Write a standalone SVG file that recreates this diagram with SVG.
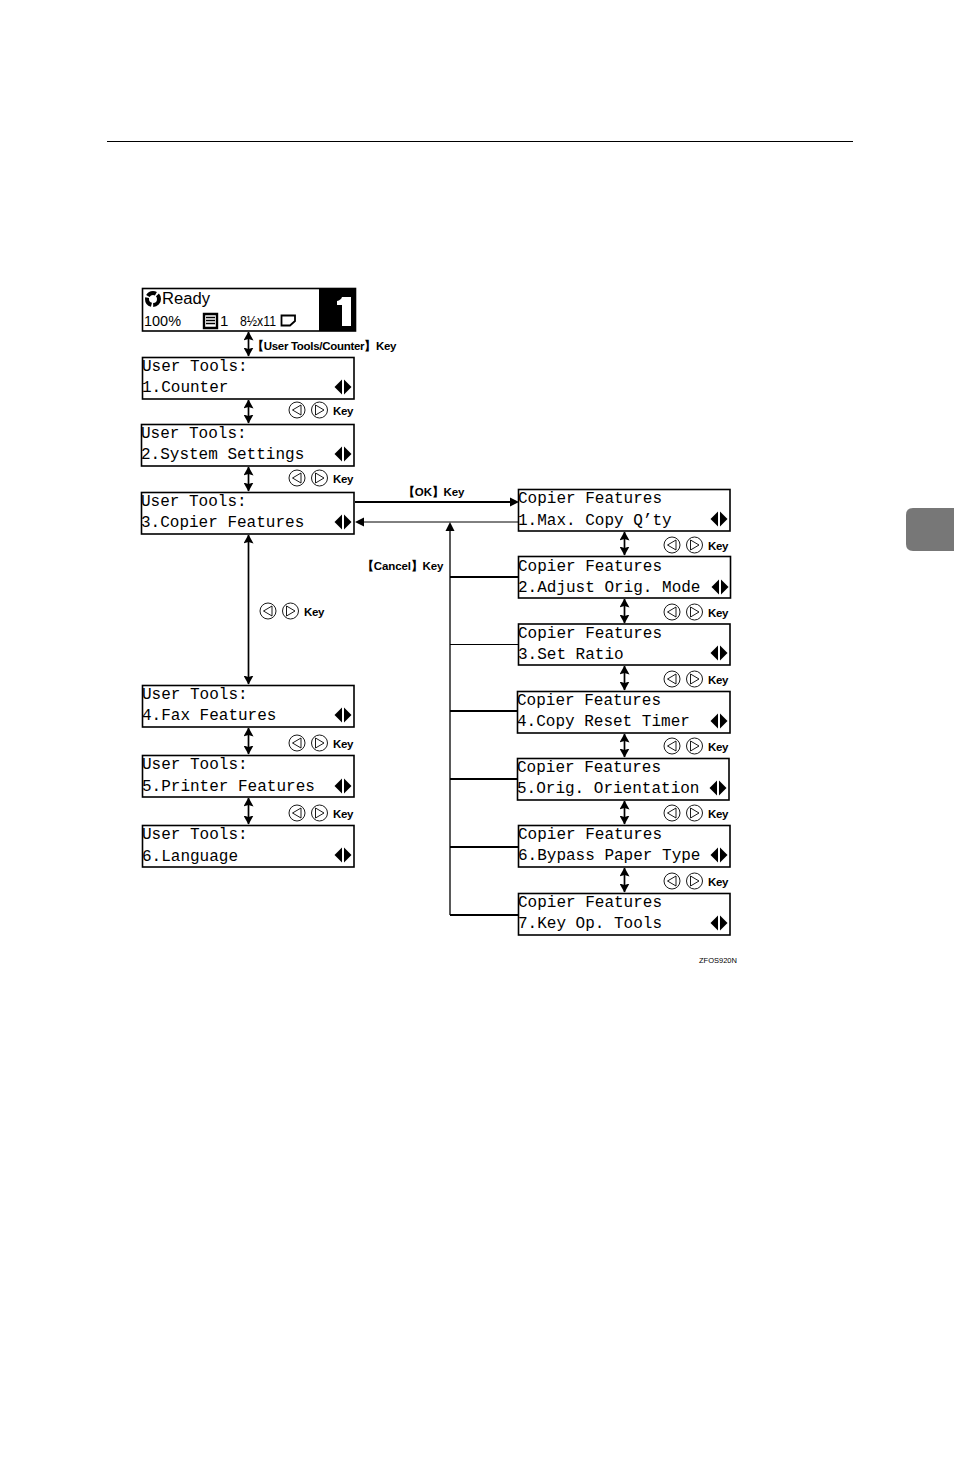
<svg xmlns="http://www.w3.org/2000/svg" width="954" height="1474" viewBox="0 0 954 1474">
<style>
.box{fill:#fff;stroke:#000;stroke-width:1.6}
.lcd{font-family:"Liberation Mono",monospace;font-size:16px;fill:#000}
.sm{font-family:"Liberation Sans",Arial,sans-serif;font-size:15px;fill:#000}
.key{font-family:"Liberation Sans",Arial,sans-serif;font-size:11.5px;font-weight:bold;fill:#000;letter-spacing:-.4px}
.thin{fill:none;stroke:#000;stroke-width:1}
.thick{fill:none;stroke:#000;stroke-width:1.8}
.v{fill:none;stroke:#000;stroke-width:1.7;marker-start:url(#a);marker-end:url(#a)}
</style>
<defs>
<marker id="a" viewBox="0 0 9 10" refX="8.500" refY="5" markerWidth="9" markerHeight="10" markerUnits="userSpaceOnUse" orient="auto-start-reverse"><path d="M0 0L9 5L0 10L1.500 5Z" fill="#000"/></marker>
<g id="lr"><path d="M-1 -7.500V7.500L-8.500 0Z" fill="#000"/><path d="M1 -7.500V7.500L8.500 0Z" fill="#000"/></g>
<g id="bt"><circle cx="0" cy="0" r="8" fill="#fff" stroke="#000" stroke-width=".9"/><path d="M4 -5V5L-4.500 0Z" fill="#fff" stroke="#000" stroke-width=".9"/><circle cx="22.500" cy="0" r="8" fill="#fff" stroke="#000" stroke-width=".9"/><path d="M18.500 -5V5L27 0Z" fill="#fff" stroke="#000" stroke-width=".9"/></g>
</defs>
<rect width="954" height="1474" fill="#fff"/>
<path d="M107 141.500H853" stroke="#000" stroke-width="1"/>
<path d="M954 508H913Q906 508 906 515V544Q906 551 913 551H954Z" fill="#777"/>

<g id="connectors">
<path class="v" d="M248.500 332V356"/>
<path class="v" d="M248.500 400V423"/>
<path class="v" d="M248.500 467V491"/>
<path class="v" d="M248.500 535V684"/>
<path class="v" d="M248.500 728V754"/>
<path class="v" d="M248.500 798V824"/>
<path class="v" d="M624.500 532V555"/>
<path class="v" d="M624.500 599V623"/>
<path class="v" d="M624.500 666V690"/>
<path class="v" d="M624.500 734V757"/>
<path class="v" d="M624.500 801V824"/>
<path class="v" d="M624.500 868V892"/>
<path class="thick" d="M355 502H512"/><path d="M510 497.500L519 502L510 506.500Z" fill="#000"/>
<path class="thin" d="M363 522H518"/><path d="M355 522L364 517.500V526.500Z" fill="#000"/>
<path class="thin" d="M450 530V915" style="stroke-width:1.300"/><path d="M450 522L454.500 531H445.500Z" fill="#000"/>
<path class="thick" d="M450 577H518"/>
<path class="thin" d="M450 644.500H518"/>
<path class="thick" d="M450 711H517"/>
<path class="thick" d="M450 779H517"/>
<path class="thick" d="M450 847H518"/>
<path class="thick" d="M450 915H518"/>
</g>

<g id="node-ready">
<rect class="box" x="142.500" y="288.500" width="213" height="42.500"/>
<rect x="319" y="289" width="36" height="42" fill="#000"/>
<path d="M342 297H351V326H342V305H337V301Q341 300 342 297Z" fill="#fff"/>
<circle cx="153" cy="299" r="6" fill="none" stroke="#000" stroke-width="4" stroke-dasharray="9 1.800"/>
<text x="162" y="304" class="sm" style="font-size:16px" textLength="48" lengthAdjust="spacingAndGlyphs">Ready</text>
<text class="sm" x="144" y="326" textLength="37" lengthAdjust="spacingAndGlyphs">100%</text>
<path d="M204 314H217V328H204Z" fill="#fff" stroke="#000" stroke-width="2.400"/><path d="M206 317.500H215M206 320.500H215M206 323.500H215" stroke="#000" stroke-width="1.300"/>
<text class="sm" x="220" y="326">1</text>
<text class="sm" x="240" y="326" textLength="36" lengthAdjust="spacingAndGlyphs">8½x11</text>
<path d="M281.500 315.500H295V321L290 325.500H281.500Z" fill="none" stroke="#000" stroke-width="1.800"/>
</g>

<g id="node-u1"><rect class="box" x="142.500" y="357.500" width="211.500" height="41.500"/><text class="lcd" x="142" y="371">User Tools:</text><text class="lcd" x="142" y="392">1.Counter</text><use href="#lr" x="343" y="387"/></g>
<g id="node-u2"><rect class="box" x="141.500" y="424.500" width="212.500" height="41.500"/><text class="lcd" x="141" y="438">User Tools:</text><text class="lcd" x="141" y="459">2.System Settings</text><use href="#lr" x="343" y="454"/></g>
<g id="node-u3"><rect class="box" x="141.500" y="492.500" width="212.500" height="41.500"/><text class="lcd" x="141" y="506">User Tools:</text><text class="lcd" x="141" y="527">3.Copier Features</text><use href="#lr" x="343" y="522"/></g>
<g id="node-u4"><rect class="box" x="142.500" y="685.500" width="211.500" height="41.500"/><text class="lcd" x="142" y="699">User Tools:</text><text class="lcd" x="142" y="720">4.Fax Features</text><use href="#lr" x="343" y="715"/></g>
<g id="node-u5"><rect class="box" x="142.500" y="755.500" width="211.500" height="41.500"/><text class="lcd" x="142" y="769">User Tools:</text><text class="lcd" x="142" y="791">5.Printer Features</text><use href="#lr" x="343" y="786"/></g>
<g id="node-u6"><rect class="box" x="142.500" y="825.500" width="211.500" height="41.500"/><text class="lcd" x="142" y="839">User Tools:</text><text class="lcd" x="142" y="861">6.Language</text><use href="#lr" x="343" y="855"/></g>

<g id="node-c1"><rect class="box" x="518.500" y="489.500" width="211.500" height="41.500"/><text class="lcd" x="518" y="503">Copier Features</text><text class="lcd" x="518" y="525">1.Max. Copy Q’ty</text><use href="#lr" x="719" y="519"/></g>
<g id="node-c2"><rect class="box" x="518.500" y="556.500" width="212" height="41.500"/><text class="lcd" x="518" y="571">Copier Features</text><text class="lcd" x="518" y="592">2.Adjust Orig. Mode</text><use href="#lr" x="720" y="587"/></g>
<g id="node-c3"><rect class="box" x="518.500" y="624" width="211.500" height="41"/><text class="lcd" x="518" y="638">Copier Features</text><text class="lcd" x="518" y="659">3.Set Ratio</text><use href="#lr" x="719" y="653"/></g>
<g id="node-c4"><rect class="box" x="517.500" y="691.500" width="212.500" height="41.500"/><text class="lcd" x="517" y="705">Copier Features</text><text class="lcd" x="517" y="726">4.Copy Reset Timer</text><use href="#lr" x="719" y="721"/></g>
<g id="node-c5"><rect class="box" x="517.500" y="758.500" width="211.500" height="41.500"/><text class="lcd" x="517" y="772">Copier Features</text><text class="lcd" x="517" y="793">5.Orig. Orientation</text><use href="#lr" x="718" y="788"/></g>
<g id="node-c6"><rect class="box" x="518.500" y="825.500" width="211.500" height="41.500"/><text class="lcd" x="518" y="839">Copier Features</text><text class="lcd" x="518" y="860">6.Bypass Paper Type</text><use href="#lr" x="719" y="855"/></g>
<g id="node-c7"><rect class="box" x="518.500" y="893.500" width="211.500" height="41.500"/><text class="lcd" x="518" y="907">Copier Features</text><text class="lcd" x="518" y="928">7.Key Op. Tools</text><use href="#lr" x="719" y="923"/></g>

<g id="labels">
<text class="key" x="252" y="350" textLength="144">【User Tools/Counter】Key</text>
<use href="#bt" x="297" y="410"/><text class="key" x="333" y="414.500">Key</text>
<use href="#bt" x="297" y="478"/><text class="key" x="333" y="482.500">Key</text>
<use href="#bt" x="268" y="611"/><text class="key" x="304" y="615.500">Key</text>
<use href="#bt" x="297" y="743"/><text class="key" x="333" y="747.500">Key</text>
<use href="#bt" x="297" y="813"/><text class="key" x="333" y="817.500">Key</text>
<use href="#bt" x="672" y="545"/><text class="key" x="708" y="549.500">Key</text>
<use href="#bt" x="672" y="612"/><text class="key" x="708" y="616.500">Key</text>
<use href="#bt" x="672" y="679"/><text class="key" x="708" y="683.500">Key</text>
<use href="#bt" x="672" y="746"/><text class="key" x="708" y="750.500">Key</text>
<use href="#bt" x="672" y="813"/><text class="key" x="708" y="817.500">Key</text>
<use href="#bt" x="672" y="881"/><text class="key" x="708" y="885.500">Key</text>
<text class="key" x="403" y="496" textLength="61">【OK】Key</text>
<text class="key" x="362" y="570" textLength="81">【Cancel】Key</text>
<text x="699" y="963" font-family="Liberation Sans,Arial,sans-serif" font-size="7.500" fill="#000">ZFOS920N</text>
</g>
</svg>
